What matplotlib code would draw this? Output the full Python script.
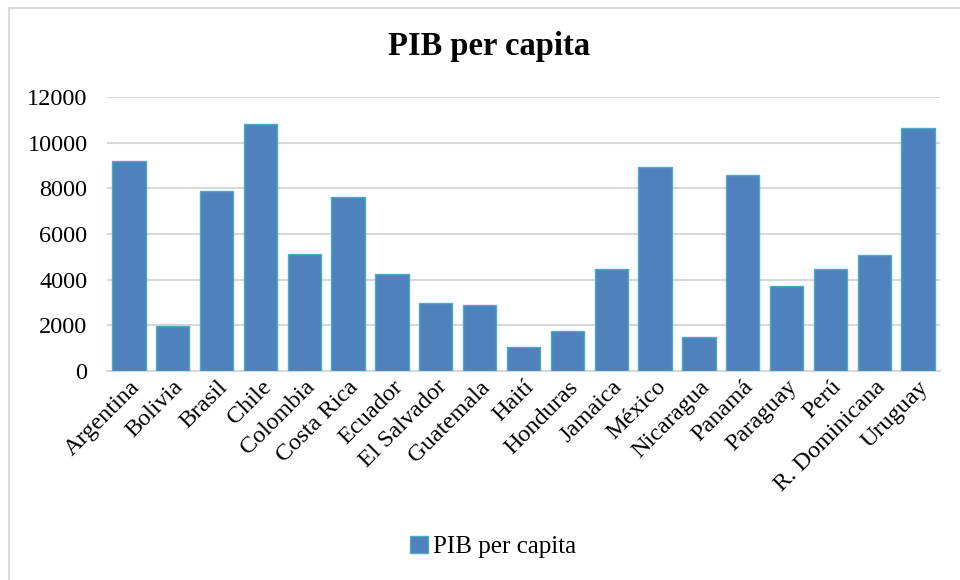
import matplotlib.pyplot as plt
from matplotlib.patches import Rectangle

plt.rcParams['font.family'] = ['Liberation Serif', 'DejaVu Serif']

paises = ['Argentina', 'Bolivia', 'Brasil', 'Chile', 'Colombia', 'Costa Rica',
          'Ecuador', 'El Salvador', 'Guatemala', 'Haití', 'Honduras', 'Jamaica',
          'México', 'Nicaragua', 'Panamá', 'Paraguay', 'Perú', 'R. Dominicana',
          'Uruguay']
pib = [9210, 1960, 7870, 10800, 5140, 7600, 4270, 2960, 2870, 1040, 1750,
       4450, 8950, 1500, 8600, 3730, 4460, 5090, 10630]
yticks = [0, 2000, 4000, 6000, 8000, 10000, 12000]

fig = plt.figure(figsize=(9.6, 5.8), dpi=100)
ax = fig.add_axes([107 / 960, 1 - 371 / 580, 833 / 960, 274 / 580])

x = range(len(paises))
ax.bar(x, pib, width=0.76, color='#4f81bd', edgecolor='#4bacc6', linewidth=1,
       label='PIB per capita', zorder=3)

ax.set_xlim(-0.5, len(paises) - 0.5)
ax.set_ylim(0, 12000)
ax.set_yticks(yticks)
ax.set_yticklabels([str(v) for v in yticks], fontsize=17.5)
ax.set_xticks(list(x))
ax.set_xticklabels(paises, rotation=45, ha='right', rotation_mode='anchor',
                   fontsize=17.5)
ax.tick_params(axis='y', length=0, pad=14)
ax.tick_params(axis='x', length=0, pad=4)

ax.grid(axis='y', color='#d9d9d9', linewidth=1.5, zorder=0)
for s in ['top', 'right', 'left']:
    ax.spines[s].set_visible(False)
ax.spines['bottom'].set_color('#d9d9d9')
ax.spines['bottom'].set_linewidth(1.5)

fig.text(489 / 960, 1 - 47 / 580, 'PIB per capita', ha='center', va='center',
         fontsize=23.5, fontweight='bold')

fig.legend(loc='center', bbox_to_anchor=(493 / 960, 1 - 547 / 580), frameon=False,
           fontsize=18, handlelength=0.7, handleheight=0.7, handletextpad=0.2)

# light frame around the chart area
fig.patches.append(Rectangle((8.5 / 960, -0.05), 1.1, 1.05 - 7.5 / 580,
                             transform=fig.transFigure, fill=False,
                             edgecolor='#d9d9d9', linewidth=1.5))

fig.savefig('out.png', dpi=100)
